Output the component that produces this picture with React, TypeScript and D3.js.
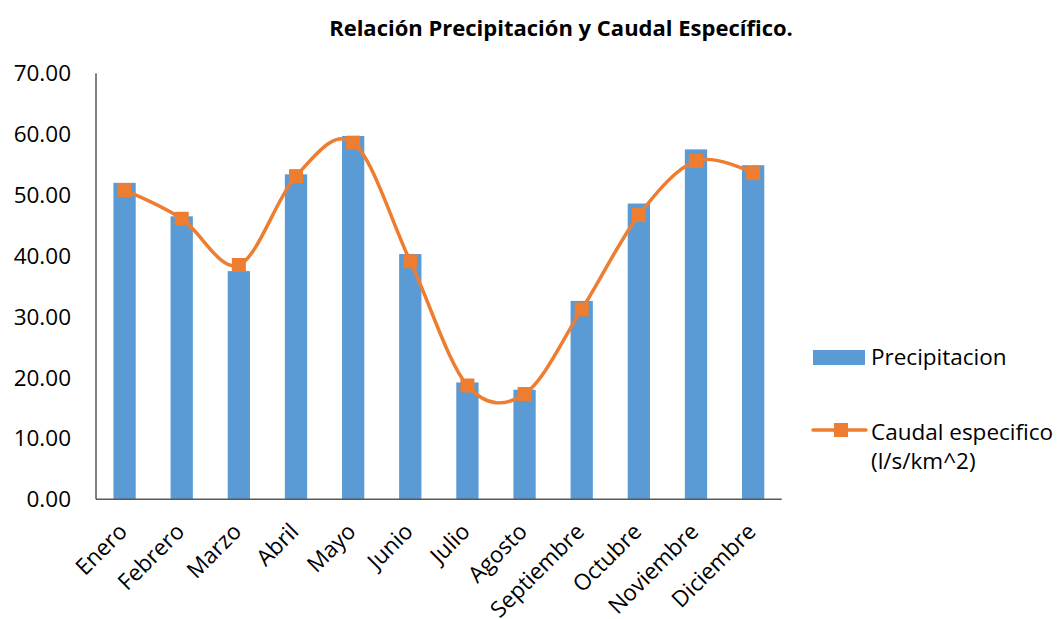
import React from "react";
import * as d3 from "d3";

const months = ["Enero","Febrero","Marzo","Abril","Mayo","Junio","Julio","Agosto","Septiembre","Octubre","Noviembre","Diciembre"];
const precipitacion = [52.0, 46.5, 37.5, 53.4, 59.7, 40.3, 19.2, 18.0, 32.6, 48.6, 57.5, 54.9];
const caudal = [50.8, 46.1, 38.5, 53.1, 58.6, 39.1, 18.7, 17.3, 31.2, 46.7, 55.6, 53.6];
const yTicks = [0, 10, 20, 30, 40, 50, 60, 70];

const W = 1059, H = 619;
const left = 96, right = 781.7, top = 73.3, bottom = 499.3;
const BLUE = "#5B9BD5", ORANGE = "#ED7D31", AXIS = "#595959";
const FONT = "'Open Sans', 'Noto Sans', sans-serif";

export default function App() {
  const x = d3.scaleBand<string>().domain(months).range([left, right]).padding(0);
  const y = d3.scaleLinear().domain([0, 70]).range([bottom, top]);
  const bw = x.bandwidth() * 0.39;
  const cx = (m: string) => (x(m) as number) + x.bandwidth() / 2;
  const line = d3.line<number>()
    .x((_, i) => cx(months[i]))
    .y((d) => y(d))
    .curve(d3.curveCatmullRom.alpha(0));
  const ms = 14;
  return (
    <div style={{ position: "absolute", left: 0, top: 0 }}>
      <svg width={W} height={H} style={{ display: "block", background: "#fff" }}>
        <text x={561} y={36} textAnchor="middle" fontFamily={FONT} fontWeight={700} fontSize={22} fill="#000">
          Relación Precipitación y Caudal Específico.
        </text>
        {precipitacion.map((v, i) => (
          <rect key={i} x={cx(months[i]) - bw / 2} y={y(v)} width={bw} height={bottom - y(v)} fill={BLUE} />
        ))}
        <line x1={left} x2={left} y1={top} y2={bottom} stroke={AXIS} strokeWidth={1.5} />
        <line x1={left} x2={right} y1={bottom} y2={bottom} stroke={AXIS} strokeWidth={1.5} />
        {yTicks.map((t) => (
          <text key={t} x={71} y={y(t) + 8} textAnchor="end" fontFamily={FONT} fontSize={22.5} fill="#000">
            {t.toFixed(2)}
          </text>
        ))}
        {months.map((m) => {
          const ax = cx(m) + 4, ay = 533;
          return (
            <text key={m} x={ax} y={ay} textAnchor="end" transform={`rotate(-45, ${ax}, ${ay})`} fontFamily={FONT} fontSize={22.5} fill="#000">
              {m}
            </text>
          );
        })}
        <path d={line(caudal) || ""} fill="none" stroke={ORANGE} strokeWidth={3.5} strokeLinecap="round" />
        {caudal.map((v, i) => (
          <rect key={i} x={cx(months[i]) - ms / 2} y={y(v) - ms / 2} width={ms} height={ms} fill={ORANGE} />
        ))}
        <rect x={813} y={350} width={52} height={15} fill={BLUE} />
        <text x={871} y={365} fontFamily={FONT} fontSize={22.5} fill="#000">Precipitacion</text>
        <line x1={813} x2={866} y1={430} y2={430} stroke={ORANGE} strokeWidth={3.5} strokeLinecap="round" />
        <rect x={834} y={423} width={14} height={14} fill={ORANGE} />
        <text x={871} y={440} fontFamily={FONT} fontSize={22.5} fill="#000">Caudal especifico</text>
        <text x={871} y={469} fontFamily={FONT} fontSize={22.5} fill="#000">(l/s/km^2)</text>
      </svg>
    </div>
  );
}
